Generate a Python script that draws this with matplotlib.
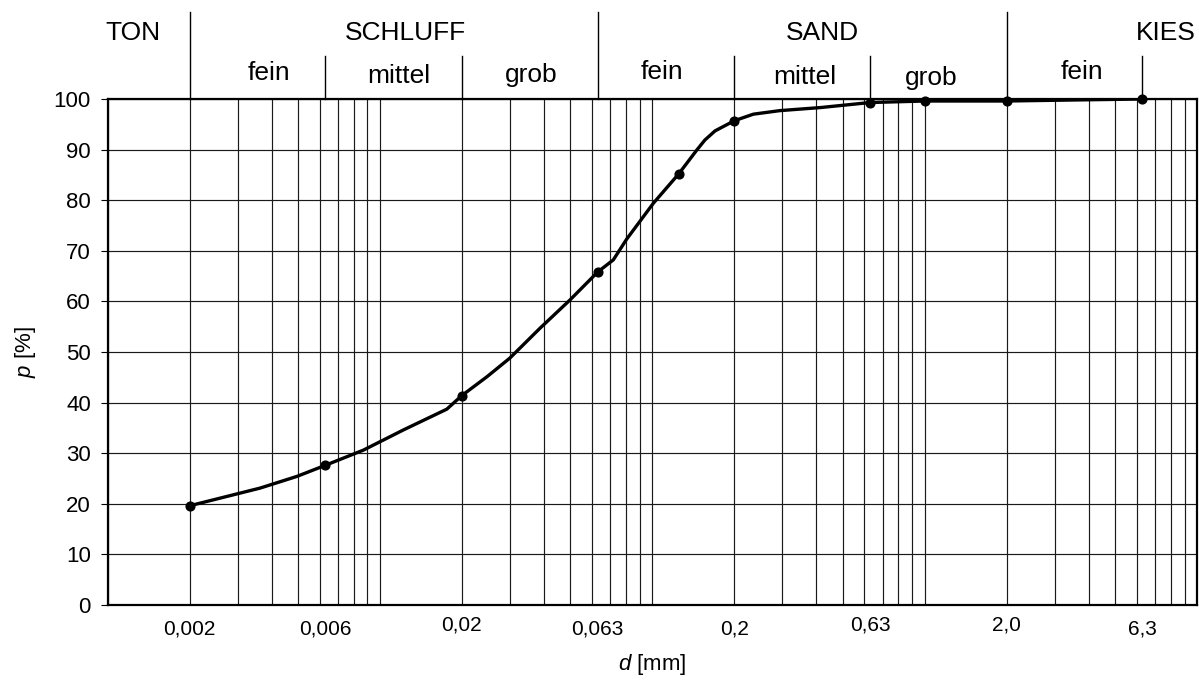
import numpy as np
import matplotlib
matplotlib.use('Agg')
import matplotlib.pyplot as plt
from matplotlib.ticker import LogLocator

plt.rcParams['font.family'] = ['Liberation Sans', 'DejaVu Sans']
plt.rcParams['mathtext.fontset'] = 'custom'
plt.rcParams['mathtext.it'] = 'Liberation Sans:italic'
plt.rcParams['mathtext.rm'] = 'Liberation Sans'

# measured points (sieve results)
d_pts = [0.002, 0.0063, 0.02, 0.063, 0.125, 0.2, 0.63, 1.0, 2.0, 6.3]
p_pts = [19.6, 27.6, 41.4, 65.8, 85.2, 95.7, 99.3, 99.6, 99.6, 100.0]

d_curve = [0.00363, 0.00495, 0.00869, 0.0122, 0.0176, 0.0247, 0.0300, 0.0387,
           0.0499, 0.0719, 0.0805, 0.1009, 0.1456, 0.156, 0.170, 0.235, 0.294,
           0.413, 3.5]
p_curve = [23.1, 25.4, 30.6, 34.6, 38.7, 45.1, 48.8, 54.7,
           60.3, 68.2, 72.3, 79.4, 89.9, 91.9, 93.7, 97.0, 97.7,
           98.3, 99.8]

# x tick labels
tick_d = [0.002, 0.0063, 0.02, 0.063, 0.2, 0.63, 2.0, 6.3]
tick_lbl = ['0,002', '0,006', '0,02', '0,063', '0,2', '0,63', '2,0', '6,3']
tick_y = [-0.047, -0.047, -0.040, -0.047, -0.047, -0.040, -0.040, -0.047]

# soil classes above the plot
main_lbl = ['TON', 'SCHLUFF', 'SAND', 'KIES']
main_d = [0.00124, 0.0124, 0.42, 9.9]
sub_lbl = ['fein', 'mittel', 'grob', 'fein', 'mittel', 'grob', 'fein']
sub_d = [0.0039, 0.01175, 0.0359, 0.1085, 0.3636, 1.055, 3.776]
sub_y = [1.037, 1.031, 1.033, 1.039, 1.029, 1.027, 1.039]
big_div = [0.002, 0.063, 2.0]
small_div = [0.0063, 0.02, 0.2, 0.63, 6.3]

fig = plt.figure(figsize=(11.99, 6.86), dpi=100)
ax = fig.add_axes([0.0897, 0.1181, 0.9087, 0.7376])

ax.set_xscale('log')
ax.set_xlim(0.001, 10)
ax.set_ylim(0, 100)
ax.xaxis.set_major_locator(LogLocator(base=10))
ax.xaxis.set_minor_locator(LogLocator(base=10, subs=range(2, 10)))
ax.set_yticks(range(0, 101, 10))
ax.grid(which='both', axis='x', color='#1a1a1a', lw=0.85)
ax.grid(which='major', axis='y', color='#1a1a1a', lw=0.85)
ax.tick_params(axis='x', which='both', length=0, labelbottom=False)
ax.tick_params(axis='y', length=5, width=0.8, pad=7, labelsize=16)
for s in ax.spines.values():
    s.set_linewidth(1.6)
    s.set_color('black')

# curve through all points
d_all = np.array(d_pts + d_curve)
p_all = np.array(p_pts + p_curve)
order = np.argsort(d_all)
ax.plot(d_all[order], p_all[order], color='black', lw=2.4, zorder=5,
        solid_joinstyle='round')
ax.plot(d_pts, p_pts, 'o', color='black', ms=6.3, zorder=6, clip_on=False)

tr = ax.get_xaxis_transform()
for d, lbl, y in zip(tick_d, tick_lbl, tick_y):
    ax.text(d, y, lbl, transform=tr, ha='center', va='center', fontsize=15)

# header with soil classes
for d in big_div:
    ax.plot([d, d], [1.0, 1.172], transform=tr, color='black', lw=1.0, clip_on=False)
for d in small_div:
    ax.plot([d, d], [1.0, 1.085], transform=tr, color='black', lw=1.0, clip_on=False)
for d, lbl in zip(main_d, main_lbl):
    ha = 'right' if lbl == 'KIES' else 'center'
    ax.text(d, 1.117, lbl, transform=tr, ha=ha, va='baseline', fontsize=19)
for d, lbl, y in zip(sub_d, sub_lbl, sub_y):
    ax.text(d, y, lbl, transform=tr, ha='center', va='baseline', fontsize=19)

ax.set_xlabel('$d$ [mm]', fontsize=16, labelpad=34)
ax.set_ylabel('$p$ [%]', fontsize=16)
ax.yaxis.set_label_coords(-0.064, 0.5)

fig.savefig('out.png', dpi=100)
plt.close(fig)
